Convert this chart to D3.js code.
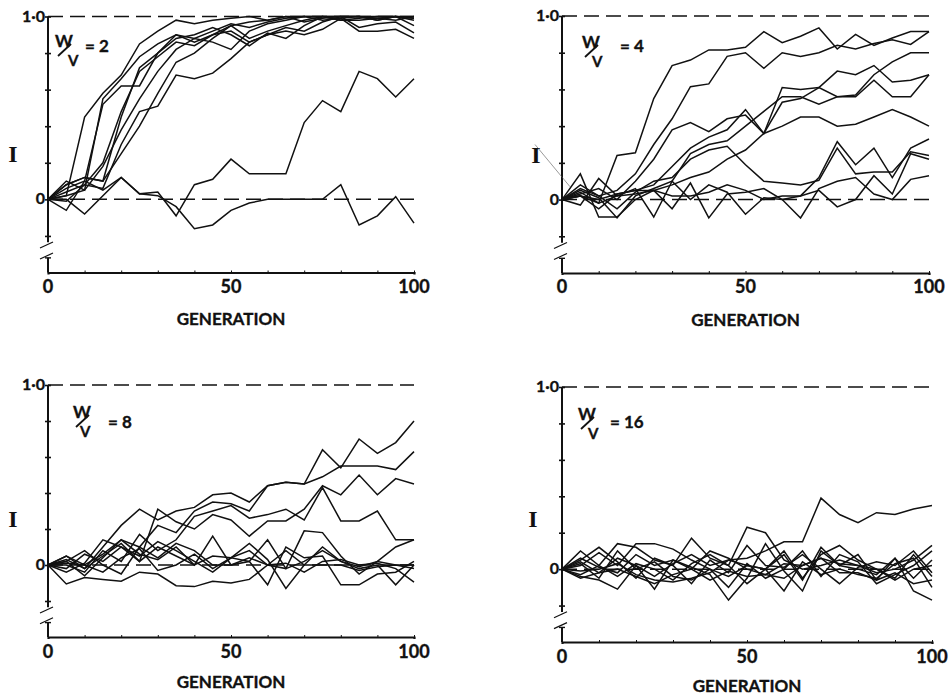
<!DOCTYPE html>
<html><head><meta charset="utf-8">
<script src="https://cdn.jsdelivr.net/npm/d3@7"></script>
<style>body{margin:0;background:#fff}svg{display:block}</style>
</head><body>
<svg id="c" width="952" height="696"></svg>
<script>
// ---------- data ----------
const generations = d3.range(0, 101, 5);
const xTickValues = [0, 50, 100];
const xMinorTicks = d3.range(0, 101, 10);
const yTickValues = [1, 0.8, 0.6, 0.4, 0.2, 0, -0.2];
const yLabelValues = [1, 0];
const ratioLabels = ["2", "4", "8", "16"];

const seriesWV2 = [
  [0,0.02,0.45,0.58,0.68,0.85,0.92,0.98,0.96,0.98,0.99,1.0,0.98,1.0,1.0,1.0,1.0,1.0,1.0,1.0,1.0],
  [0,-0.06,0.10,0.52,0.62,0.62,0.80,0.90,0.88,0.92,0.96,0.94,0.97,0.99,1.0,1.0,0.98,0.99,1.0,1.0,0.98],
  [0,0.10,0.05,0.55,0.66,0.78,0.85,0.90,0.86,0.90,0.95,0.88,0.92,0.95,0.98,1.0,1.0,1.0,0.99,1.0,0.99],
  [0,0.04,0.08,0.20,0.48,0.70,0.78,0.86,0.84,0.90,0.92,0.86,0.90,0.94,0.92,0.97,1.0,0.94,0.96,0.97,0.91],
  [0,0.08,0.12,0.10,0.45,0.72,0.80,0.88,0.90,0.94,0.90,0.84,0.91,0.88,0.95,1.0,0.98,0.98,0.99,0.98,1.0],
  [0,0.02,0.05,0.18,0.38,0.55,0.70,0.82,0.88,0.86,0.82,0.92,0.96,0.98,1.0,0.98,0.99,1.0,0.98,1.0,0.95],
  [0,-0.01,0.08,0.06,0.30,0.48,0.51,0.68,0.66,0.69,0.77,0.86,0.90,0.92,0.90,0.93,0.99,0.92,0.92,0.93,0.88],
  [0,0.08,0.12,0.10,0.25,0.40,0.58,0.75,0.80,0.88,0.95,0.97,0.98,1.0,0.97,0.99,1.0,1.0,0.98,1.0,0.99],
  [0,0.06,0.10,0.05,0.12,0.03,0.04,-0.09,0.08,0.11,0.22,0.14,0.14,0.14,0.42,0.54,0.48,0.70,0.66,0.56,0.66],
  [0,0.0,-0.08,0.02,0.12,0.03,0.02,-0.04,-0.16,-0.14,-0.06,-0.02,0.0,0.0,0.0,0.0,0.08,-0.14,-0.09,0.015,-0.13]
];
const seriesWV4 = [
  [0,0.04,-0.02,0.24,0.255,0.55,0.73,0.76,0.815,0.815,0.83,0.915,0.855,0.89,0.935,0.82,0.90,0.84,0.88,0.915,0.915],
  [0,0.08,0.02,0.05,0.14,0.30,0.44,0.615,0.63,0.78,0.80,0.715,0.80,0.78,0.80,0.84,0.82,0.85,0.87,0.845,0.915],
  [0,0.03,0.06,0.0,0.10,0.22,0.38,0.42,0.37,0.44,0.46,0.36,0.61,0.60,0.61,0.56,0.56,0.65,0.56,0.56,0.68],
  [0,0.02,-0.05,0.03,0.05,0.08,0.18,0.28,0.34,0.38,0.49,0.36,0.53,0.55,0.61,0.70,0.68,0.73,0.64,0.65,0.68],
  [0,0.05,0.01,-0.1,0.02,0.06,0.10,0.25,0.30,0.32,0.40,0.48,0.56,0.56,0.52,0.56,0.57,0.68,0.75,0.80,0.80],
  [0,0.02,0.0,0.03,0.05,0.05,0.08,0.12,0.15,0.22,0.27,0.36,0.40,0.45,0.45,0.40,0.41,0.45,0.49,0.45,0.40],
  [0,0.06,0.02,-0.05,0.04,0.10,0.12,0.22,0.27,0.29,0.19,0.10,0.09,0.08,0.105,0.28,0.14,0.15,0.15,0.26,0.24],
  [0,0.14,-0.095,-0.095,0.0,0.05,0.02,0.02,0.04,0.08,0.05,0.0,0.02,0.02,0.12,0.315,0.19,0.28,0.12,0.28,0.33],
  [0,-0.03,0.115,0.02,0.06,-0.095,0.10,0.0,0.08,0.04,-0.08,0.01,0.0,0.02,0.05,-0.04,0.0,0.13,0.03,0.25,0.22],
  [0,0.02,-0.02,0.02,0.03,0.05,-0.05,0.09,-0.10,0.03,0.04,0.06,0.0,-0.1,0.06,0.10,0.12,0.03,0.0,0.11,0.13]
];
const seriesWV8 = [
  [0,0.03,-0.02,0.10,0.22,0.31,0.25,0.30,0.32,0.39,0.40,0.35,0.44,0.46,0.45,0.64,0.54,0.70,0.62,0.68,0.80],
  [0,0.05,0.0,0.06,0.14,0.10,0.22,0.18,0.30,0.35,0.34,0.30,0.44,0.46,0.45,0.49,0.55,0.55,0.55,0.53,0.63],
  [0,-0.02,0.06,0.02,0.10,0.02,0.31,0.24,0.20,0.28,0.25,0.16,0.245,0.245,0.31,0.44,0.39,0.50,0.39,0.48,0.45],
  [0,0.0,-0.04,0.08,0.02,0.17,0.08,0.14,0.27,0.30,0.33,0.26,0.28,0.31,0.25,0.43,0.245,0.245,0.30,0.14,0.14],
  [0,0.05,-0.02,0.05,0.12,0.02,0.10,0.05,0.0,0.05,0.04,0.08,0.0,-0.02,0.19,0.18,0.05,-0.05,0.02,0.10,0.14],
  [0,0.02,0.08,0.0,-0.05,0.10,0.04,0.12,0.08,0.0,0.0,0.02,-0.11,0.10,0.04,0.05,-0.11,-0.11,-0.05,-0.04,0.02],
  [0,-0.04,0.01,0.14,0.10,0.05,0.13,0.08,0.02,-0.04,0.04,0.12,0.03,-0.13,0.0,0.10,0.02,-0.02,0.0,-0.11,0.0],
  [0,-0.105,-0.07,-0.08,-0.09,-0.04,-0.05,-0.115,-0.12,-0.09,-0.10,-0.08,0.0,0.01,-0.04,0.02,0.03,0.0,0.01,-0.02,-0.095],
  [0,0.02,-0.06,0.04,0.14,0.06,0.03,0.10,0.0,0.16,0.0,0.04,0.0,0.08,0.0,0.0,0.0,-0.03,-0.01,0.0,-0.02],
  [0,0.01,0.0,-0.04,0.04,0.09,-0.03,0.0,0.06,-0.02,0.04,0.02,0.14,-0.02,0.02,0.08,0.02,-0.01,0.02,0.0,0.0]
];
const seriesWV16 = [
  [0,0.04,-0.02,0.06,0.02,-0.04,0.03,0.08,0.02,0.05,0.06,0.10,0.15,0.15,0.39,0.30,0.255,0.31,0.30,0.33,0.35],
  [0,0.10,0.02,0.14,0.12,0.05,0.02,0.17,0.06,0.02,0.23,0.20,0.05,0.0,0.02,0.05,0.02,-0.02,0.0,0.05,0.13],
  [0,0.02,0.09,0.02,0.14,0.14,0.11,0.05,0.0,-0.04,0.02,0.0,0.10,-0.05,0.08,0.13,0.05,0.0,-0.05,0.08,-0.04],
  [0,-0.04,-0.06,-0.11,0.02,-0.11,0.05,0.01,-0.03,-0.17,-0.05,0.14,-0.01,-0.12,0.10,0.02,0.08,-0.06,0.06,-0.12,-0.17],
  [0,0.05,0.12,0.04,-0.05,0.06,0.02,-0.08,0.05,-0.02,0.13,0.02,0.01,0.08,0.0,-0.08,0.01,0.04,0.02,0.10,-0.02],
  [0,-0.03,0.02,-0.04,0.03,0.0,-0.06,0.03,0.08,0.02,-0.08,0.0,0.08,-0.06,0.12,0.02,0.0,-0.03,0.06,-0.05,0.05],
  [0,0.03,-0.05,0.10,0.0,0.04,-0.04,-0.06,0.0,-0.10,0.03,-0.05,0.0,0.10,-0.04,0.08,0.04,-0.08,-0.03,0.02,0.10],
  [0,-0.01,0.0,0.03,-0.03,-0.06,-0.07,-0.05,-0.02,0.05,0.02,0.0,-0.12,0.04,-0.03,0.0,-0.03,-0.05,0.03,0.06,-0.10],
  [0,0.06,0.01,-0.02,0.08,0.02,0.05,0.0,0.10,0.06,0.0,-0.03,0.03,0.02,0.06,0.03,0.02,0.0,-0.06,0.0,0.02],
  [0,-0.05,-0.02,0.0,-0.04,-0.08,-0.03,0.0,-0.06,-0.01,-0.04,-0.03,-0.05,0.02,0.06,-0.02,-0.02,-0.06,-0.02,-0.08,-0.06]
];
const allSeries = [seriesWV2, seriesWV4, seriesWV8, seriesWV16];

// ---------- layout ----------
const layouts = [
  {x0:48,  x1:414, yTop:16.5, yBot:272.5, w:[55,47],  v:[68,66],  eq:[85,52],  iLabel:[13,162], tickBase:293, genBase:325},
  {x0:562, x1:929, yTop:16,   yBot:273,   w:[582,48], v:[592,67], eq:[620,52], iLabel:[536,163], tickBase:293, genBase:326},
  {x0:73-25, x1:414, yTop:385,  yBot:637,   w:[73,418], v:[80,437], eq:[108,428], iLabel:[13,527], tickBase:658, genBase:688},
  {x0:562, x1:932, yTop:387,  yBot:642,   w:[578,420], v:[588,439], eq:[610,428], iLabel:[533,527], tickBase:663, genBase:692}
];

const svg = d3.select("#c");
const ink = "#111";
const numFont = "Lato, 'DejaVu Sans', sans-serif";

function boldText(sel, size) {
  return sel.attr("font-family", numFont).attr("font-weight", 700)
    .attr("font-size", size).attr("fill", ink)
    .attr("stroke", ink).attr("stroke-width", 0.35);
}

layouts.forEach((L, pi) => {
  const x = d3.scaleLinear().domain([0, 100]).range([L.x0, L.x1]);
  const y = d3.scaleLinear().domain([-0.4, 1]).range([L.yBot, L.yTop]);
  const g = svg.append("g");

  // dashed reference lines at 1.0 and 0
  [1, 0].forEach(v => {
    g.append("line").attr("x1", L.x0).attr("x2", L.x1)
      .attr("y1", y(v)).attr("y2", y(v))
      .attr("stroke", ink).attr("stroke-width", 1.5)
      .attr("stroke-dasharray", "15,7");
  });

  // y axis (broken)
  g.append("line").attr("x1", L.x0).attr("x2", L.x0)
    .attr("y1", y(1)).attr("y2", y(-0.235))
    .attr("stroke", ink).attr("stroke-width", 2);
  g.append("line").attr("x1", L.x0).attr("x2", L.x0)
    .attr("y1", y(-0.32)).attr("y2", y(-0.4))
    .attr("stroke", ink).attr("stroke-width", 2);
  g.append("line").attr("x1", L.x0 - 3).attr("x2", L.x0 + 3)
    .attr("y1", y(-0.32)).attr("y2", y(-0.32))
    .attr("stroke", ink).attr("stroke-width", 1.4);
  [-0.25, -0.31].forEach(v => {
    g.append("line").attr("x1", L.x0 - 8).attr("x2", L.x0 + 5)
      .attr("y1", y(v) + 3).attr("y2", y(v) - 3)
      .attr("stroke", ink).attr("stroke-width", 1.2);
  });

  // y ticks crossing the axis
  const yl = g.append("g").attr("transform", `translate(${L.x0},0)`)
    .call(d3.axisLeft(y).tickValues(yTickValues).tickSize(3).tickFormat(""));
  const yr = g.append("g").attr("transform", `translate(${L.x0},0)`)
    .call(d3.axisRight(y).tickValues(yTickValues).tickSize(3).tickFormat(""));
  [yl, yr].forEach(a => {
    a.select(".domain").remove();
    a.selectAll("line").attr("stroke", ink).attr("stroke-width", 1.6);
  });

  // y labels 1·0 and 0
  boldText(g.selectAll("text.ylab").data(yLabelValues).enter().append("text")
    .attr("x", L.x0 - 3).attr("y", d => y(d) + 5)
    .attr("text-anchor", "end"), 16)
    .text(d => d === 1 ? "1·0" : "0");

  // x axis
  const xa = g.append("g").attr("transform", `translate(0,${L.yBot})`)
    .call(d3.axisBottom(x).tickValues(xMinorTicks).tickSize(2).tickFormat(""));
  xa.select(".domain").attr("stroke", ink).attr("stroke-width", 2.2);
  xa.selectAll("line").attr("stroke", ink).attr("stroke-width", 1).attr("transform", "translate(0,-2)");

  boldText(g.selectAll("text.xlab").data(xTickValues).enter().append("text")
    .attr("x", d => x(d)).attr("y", L.tickBase)
    .attr("text-anchor", "middle"), 18)
    .text(d => d);

  boldText(g.append("text").attr("x", x(50)).attr("y", L.genBase)
    .attr("text-anchor", "middle"), 17)
    .text("GENERATION");

  // I label
  g.append("text").attr("x", L.iLabel[0]).attr("y", L.iLabel[1])
    .attr("text-anchor", "middle")
    .attr("font-family", "'Liberation Serif', serif").attr("font-weight", 700)
    .attr("font-size", 24).attr("fill", ink)
    .text("I");

  // legend W/V = n
  const [wx, wy] = L.w;
  boldText(g.append("text").attr("x", wx).attr("y", wy), 17).text("W");
  g.append("line").attr("x1", wx + 3).attr("y1", wy + 9)
    .attr("x2", wx + 16).attr("y2", wy - 3)
    .attr("stroke", ink).attr("stroke-width", 1.8);
  boldText(g.append("text").attr("x", L.v[0]).attr("y", L.v[1]), 15).text("V");
  boldText(g.append("text").attr("x", L.eq[0]).attr("y", L.eq[1]), 17).text("= " + ratioLabels[pi]);

  // stray guide stroke in panel 2
  if (pi === 1) {
    g.append("line").attr("x1", L.x0 - 27).attr("y1", y(0.3))
      .attr("x2", L.x0 + 8).attr("y2", y(0.07))
      .attr("stroke", "#555").attr("stroke-width", 0.6);
  }

  // series lines
  const line = d3.line().x((d, i) => x(generations[i])).y(d => y(d));
  g.selectAll("path.run").data(allSeries[pi]).enter().append("path")
    .attr("class", "run")
    .attr("d", line)
    .attr("fill", "none").attr("stroke", ink)
    .attr("stroke-width", 1.5).attr("stroke-linejoin", "miter");
});
</script>
</body></html>
